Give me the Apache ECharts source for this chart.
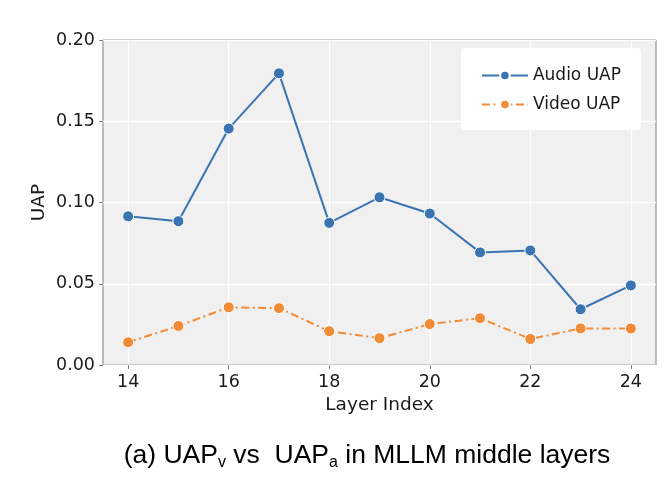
<!DOCTYPE html>
<html>
<head>
<meta charset="utf-8">
<script src="https://cdn.jsdelivr.net/npm/echarts@6/dist/echarts.min.js"></script>
<style>
  html, body { margin: 0; padding: 0; background: #fff; }
  #main { width: 670px; height: 490px; }
</style>
</head>
<body>
<div id="main"></div>
<script>
// Datos
var layers = [14, 15, 16, 17, 18, 19, 20, 21, 22, 23, 24];
var audioUAP = [0.0915, 0.0885, 0.1455, 0.1795, 0.0875, 0.1032, 0.0932, 0.0693, 0.0705, 0.0343, 0.0490];
var videoUAP = [0.0140, 0.0240, 0.0355, 0.0350, 0.0208, 0.0165, 0.0252, 0.0288, 0.0160, 0.0225, 0.0225];
var xTicks = [14, 16, 18, 20, 22, 24];

var pares = function (ys) {
    return layers.map(function (x, i) { return [x, ys[i]]; });
};

var grafico = echarts.init(document.getElementById('main'));
var fuente = 'DejaVu Sans';

var option = {
    animation: false,
    backgroundColor: '#ffffff',
    grid: {
        left: 103,
        right: 14,
        top: 40,
        bottom: 125,
        show: true,
        backgroundColor: '#f0f0f0',
        borderColor: '#7f7f7f',
        borderWidth: 1
    },
    title: {
        text: '(a) UAP{s|v} vs  UAP{s|a} in MLLM middle layers',
        left: 362,
        textAlign: 'center',
        top: 436,
        textStyle: {
            fontFamily: 'Liberation Sans',
            fontSize: 26.5,
            fontWeight: 'normal',
            color: '#000',
            rich: {
                s: {
                    fontFamily: 'Liberation Sans',
                    fontSize: 16,
                    color: '#000',
                    verticalAlign: 'bottom',
                    padding: [14, 0, 0, 0]
                }
            }
        }
    },
    legend: {
        right: 29,
        top: 48,
        orient: 'vertical',
        backgroundColor: '#ffffff',
        borderRadius: 4,
        padding: [19, 20, 17, 20],
        itemGap: 12,
        itemWidth: 46,
        itemHeight: 12,
        textStyle: { fontFamily: fuente, fontSize: 17, color: '#1a1a1a' },
        data: ['Audio UAP', 'Video UAP']
    },
    xAxis: {
        type: 'value',
        min: 13.5,
        max: 24.5,
        name: 'Layer Index',
        nameLocation: 'middle',
        nameGap: 29,
        nameTextStyle: { fontFamily: fuente, fontSize: 18.5, color: '#1a1a1a' },
        axisLine: { show: false },
        axisTick: { show: true, customValues: xTicks, length: 4, lineStyle: { color: '#7f7f7f' } },
        axisLabel: { customValues: xTicks, fontFamily: fuente, fontSize: 17.5, color: '#1a1a1a', margin: 8 },
        splitLine: { show: true, lineStyle: { color: '#ffffff', width: 1.3 } }
    },
    yAxis: {
        type: 'value',
        min: 0,
        max: 0.2,
        interval: 0.05,
        name: 'UAP',
        nameLocation: 'middle',
        nameGap: 54,
        nameMoveOverlap: false,
        nameTextStyle: { fontFamily: fuente, fontSize: 18.5, color: '#1a1a1a' },
        axisLine: { show: false },
        axisTick: { show: true, length: 4, lineStyle: { color: '#7f7f7f' } },
        axisLabel: {
            fontFamily: fuente, fontSize: 17.5, color: '#1a1a1a', margin: 8,
            formatter: function (v) { return v.toFixed(2); }
        },
        splitLine: { show: true, lineStyle: { color: '#ffffff', width: 1.3 } }
    },
    series: [{
        name: 'Audio UAP',
        type: 'line',
        symbol: 'circle',
        symbolSize: 11,
        color: '#3a75b2',
        itemStyle: { color: '#3a75b2', borderColor: '#ffffff', borderWidth: 1 },
        lineStyle: { width: 2, color: '#3a75b2' },
        data: pares(audioUAP)
    }, {
        name: 'Video UAP',
        type: 'line',
        symbol: 'circle',
        symbolSize: 11,
        color: '#f08b36',
        itemStyle: { color: '#f08b36', borderColor: '#ffffff', borderWidth: 1 },
        lineStyle: { width: 2, color: '#f08b36', type: [8, 3.5, 2, 3.5] },
        data: pares(videoUAP)
    }]
};

grafico.setOption(option);
</script>
</body>
</html>
